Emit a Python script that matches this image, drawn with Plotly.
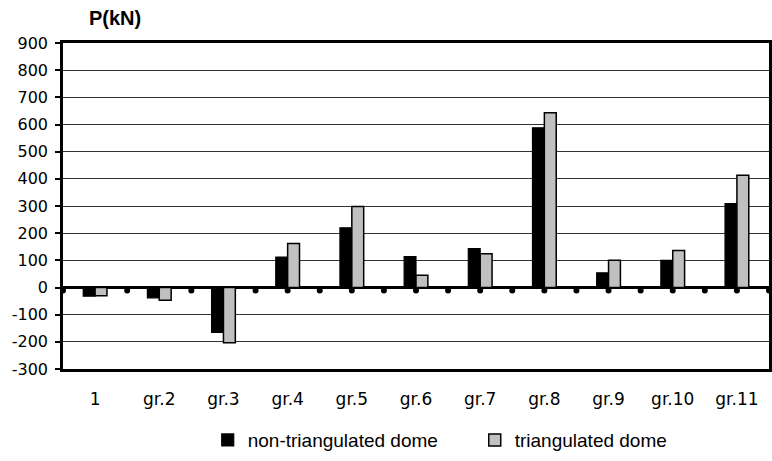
import numpy as np
import plotly.graph_objects as go

categories = ["1", "gr.2", "gr.3", "gr.4", "gr.5", "gr.6", "gr.7", "gr.8", "gr.9", "gr.10", "gr.11"]
non_triangulated = [-32, -38, -165, 112, 220, 114, 143, 588, 54, 100, 309]
triangulated = [-30, -47, -203, 162, 298, 45, 124, 643, 100, 136, 413]
y_ticks = list(range(-300, 901, 100))
y_tick_labels = [str(v) for v in y_ticks]

fig = go.Figure()
fig.add_trace(go.Bar(x=categories, y=non_triangulated, name="non-triangulated dome",
                     marker=dict(color="#000000", line=dict(color="#000000", width=1.2))))
fig.add_trace(go.Bar(x=categories, y=triangulated, name="triangulated dome",
                     marker=dict(color="#C0C0C0", line=dict(color="#000000", width=1.5))))

n = len(categories)
ymin, ymax = y_ticks[0], y_ticks[-1]

# small tick dots hanging just below the zero line, at category boundaries and centres
# (centre dots are hidden where negative bars cover them)
tick_x = [i - 0.5 for i in range(n + 1)]
tick_x += [i for i in range(n) if non_triangulated[i] >= 0 and triangulated[i] >= 0]
tick_drop = 11  # value units, so the dot hangs under the zero line
fig.add_trace(go.Scatter(x=tick_x, y=[-tick_drop] * len(tick_x), xaxis="x2", yaxis="y",
                         mode="markers", showlegend=False, hoverinfo="skip",
                         marker=dict(size=6, color="black")))

fig.update_layout(
    width=772, height=461,
    margin=dict(l=63, r=0, t=43, b=92),
    paper_bgcolor="white", plot_bgcolor="white",
    barmode="group", bargap=0.63, bargroupgap=0,
    showlegend=True,
    legend=dict(orientation="h", x=0.205, xanchor="left", y=-0.218, yanchor="middle",
                font=dict(family="Liberation Sans, Arial", size=19, color="black"),
                entrywidth=222, itemclick=False),
    xaxis=dict(type="category", range=[-0.5, n - 0.5], showgrid=False,
               showline=True, linecolor="black", linewidth=2.5, mirror=True,
               ticks="", ticklabelstandoff=13,
               tickfont=dict(family="DejaVu Sans, Verdana", size=17, color="black")),
    xaxis2=dict(overlaying="x", anchor="y", range=[-0.5, n - 0.5], type="linear",
                showticklabels=False, showgrid=False, zeroline=False),
    yaxis=dict(range=[ymin, ymax], tickvals=y_ticks, ticktext=y_tick_labels, showgrid=True,
               gridcolor="#333333", gridwidth=1,
               zeroline=True, zerolinecolor="black", zerolinewidth=3,
               showline=True, linecolor="black", linewidth=2.5, mirror=True,
               ticks="outside", ticklen=5, tickwidth=2, tickcolor="black",
               ticklabelstandoff=4,
               tickfont=dict(family="DejaVu Sans, Verdana", size=16, color="black")),
    annotations=[dict(text="<b>P(kN)</b>", xref="paper", yref="paper", x=(115 - 63) / 709, y=1,
                      yshift=25, xanchor="center", yanchor="middle", showarrow=False,
                      font=dict(family="Liberation Sans, Arial", size=20, color="black"))],
)

fig.write_html("out.html")
